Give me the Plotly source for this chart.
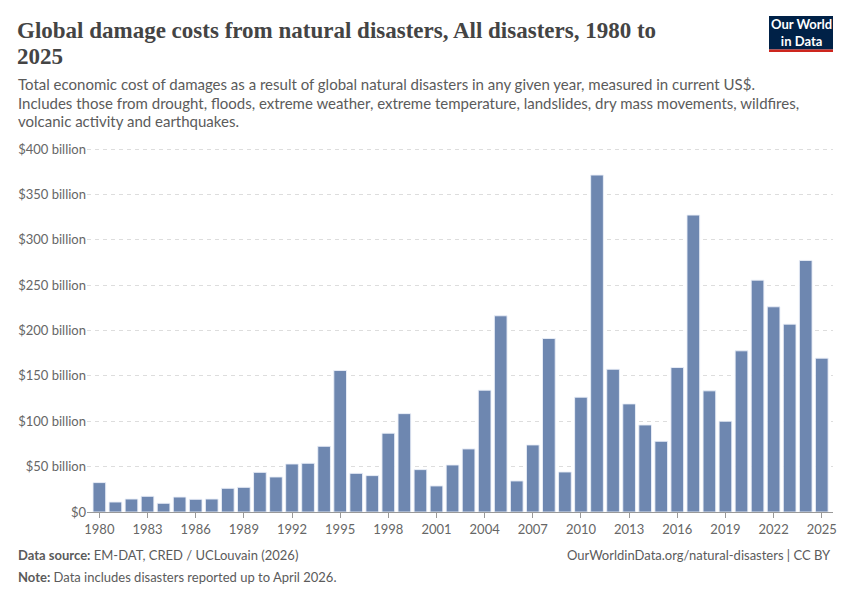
import plotly.graph_objects as go

years = list(range(1980, 2026))
damage_billion = [32.4, 11.0, 14.3, 17.3, 9.6, 16.5, 14.0, 14.3, 26.1, 27.2,
                  43.7, 38.6, 52.9, 53.7, 72.4, 155.9, 42.6, 40.1, 86.8, 108.4,
                  46.7, 28.7, 51.8, 69.5, 134.2, 216.2, 34.2, 73.9, 191.2, 44.1,
                  126.5, 371.3, 157.3, 119.1, 95.9, 77.9, 159.2, 327.2, 133.5, 100.0,
                  177.6, 255.5, 226.1, 207.0, 277.2, 169.5]
tick_years = list(range(1980, 2026, 3))
y_ticks = [0, 50, 100, 150, 200, 250, 300, 350, 400]
y_tick_labels = ["$0"] + [f"${v} billion" for v in y_ticks[1:]]

title_line1 = "Global damage costs from natural disasters, All disasters, 1980 to"
title_line2 = "2025"
subtitle_lines = [
    "Total economic cost of damages as a result of global natural disasters in any given year, measured in current US$.",
    "Includes those from drought, floods, extreme weather, extreme temperature, landslides, dry mass movements, wildfires,",
    "volcanic activity and earthquakes.",
]
source_text = "<b>Data source:</b> EM-DAT, CRED / UCLouvain (2026)"
note_text = "<b>Note:</b> Data includes disasters reported up to April 2026."
url_text = "OurWorldinData.org/natural-disasters | CC BY"

L, R, T, B = 87, 833, 147, 512
W, H = R - L, B - T
Y_TOP = 400 * H / (512 - 149)


def px(x):
    return (x - L) / W


def py(y):
    return (B - y) / H


fig = go.Figure()
fig.add_trace(go.Bar(
    x=years, y=damage_billion,
    marker=dict(color="#6e87b0", line=dict(color="rgba(235,240,248,0.9)", width=1)),
    hovertemplate="%{x}: $%{y} billion<extra></extra>",
))

ann = []
ann.append(dict(text="<b>" + title_line1 + "</b>", x=px(15), y=py(30), xanchor="left", yanchor="middle",
                font=dict(family="Liberation Serif", size=23, color="#444444")))
ann.append(dict(text="<b>" + title_line2 + "</b>", x=px(15), y=py(57), xanchor="left", yanchor="middle",
                font=dict(family="Liberation Serif", size=23, color="#444444")))
for i, line in enumerate(subtitle_lines):
    ann.append(dict(text=line, x=px(16), y=py(84 + i * 18.5), xanchor="left", yanchor="middle",
                    font=dict(family="Lato", size=15, color="#5b5b5b")))
ann.append(dict(text=source_text, x=px(16), y=py(555), xanchor="left", yanchor="middle",
                font=dict(family="Lato", size=13, color="#5b5b5b")))
ann.append(dict(text=note_text, x=px(16), y=py(577), xanchor="left", yanchor="middle",
                font=dict(family="Lato", size=13, color="#5b5b5b")))
ann.append(dict(text=url_text, x=px(833), y=py(555), xanchor="right", yanchor="middle",
                font=dict(family="Lato", size=13, color="#5b5b5b")))
for a in ann:
    a.update(align="left")
ann.append(dict(text="<b>Our World<br>in Data</b>", x=px(801), y=py(32), xanchor="center", yanchor="middle",
                align="center", font=dict(family="Lato", size=13, color="white")))
for a in ann:
    a.update(xref="paper", yref="paper", showarrow=False)

shapes = [
    dict(type="rect", xref="paper", yref="paper", x0=px(769), x1=px(833), y0=py(49.5), y1=py(16),
         fillcolor="#002147", line=dict(width=0), layer="above"),
    dict(type="rect", xref="paper", yref="paper", x0=px(769), x1=px(833), y0=py(52), y1=py(49.5),
         fillcolor="#ce261e", line=dict(width=0), layer="above"),
]

fig.update_layout(
    width=850, height=600,
    margin=dict(l=L, r=850 - R, t=T, b=600 - B),
    paper_bgcolor="white", plot_bgcolor="white",
    bargap=0.21,
    showlegend=False,
    annotations=ann,
    shapes=shapes,
    font=dict(family="Lato", color="#666666"),
    xaxis=dict(range=[1979.23, 2025.7], tickvals=tick_years, ticktext=[str(y) for y in tick_years],
               showgrid=False, showline=True, linecolor="#999999", linewidth=1,
               ticks="outside", ticklen=5, tickcolor="#999999",
               tickfont=dict(family="Lato", size=13, color="#666666"), zeroline=False, fixedrange=True),
    yaxis=dict(range=[0, Y_TOP], tickvals=y_ticks, ticktext=y_tick_labels,
               showgrid=True, gridcolor="#dddddd", griddash="4px,4px", gridwidth=1,
               zeroline=False, showline=False, ticks="",
               tickfont=dict(family="Lato", size=13, color="#666666"), fixedrange=True),
)

fig.write_html("out.html")
